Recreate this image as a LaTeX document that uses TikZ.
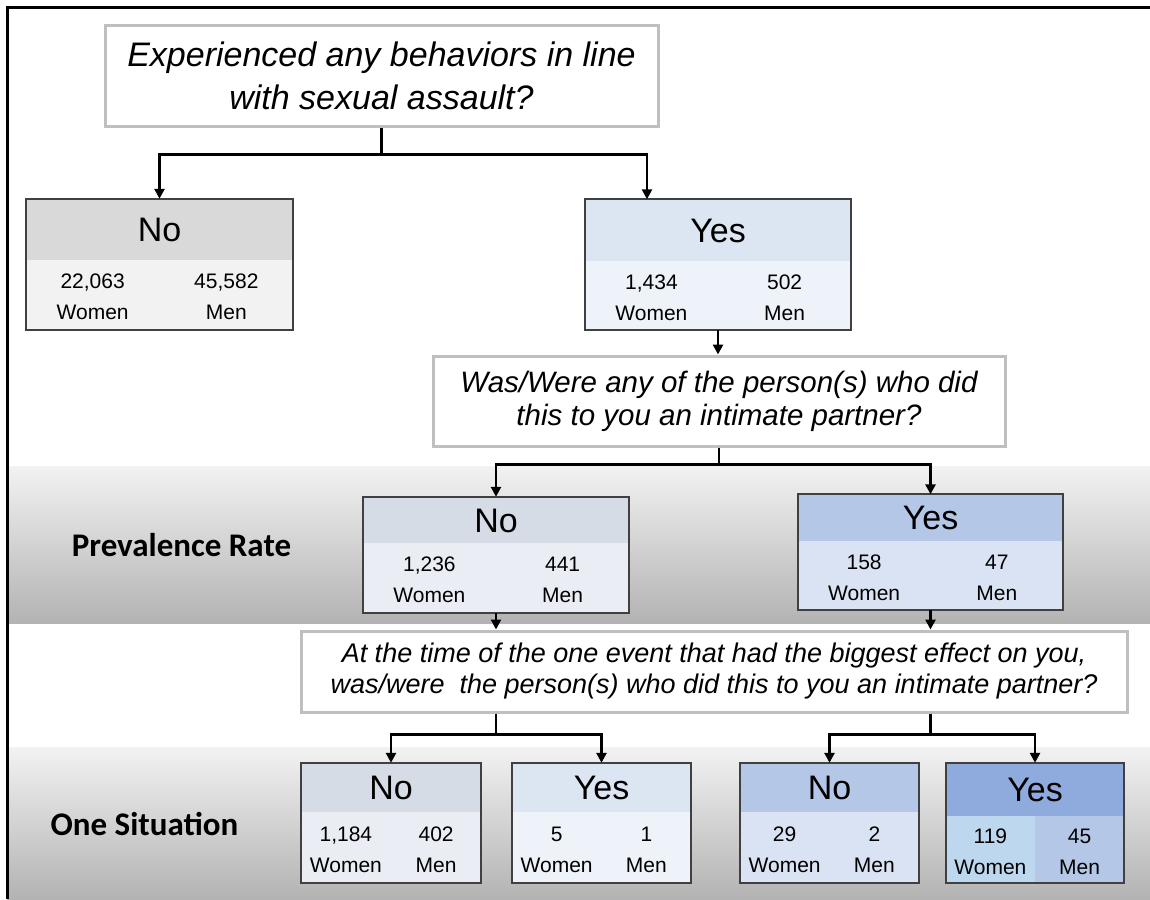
\documentclass[tikz,border=0pt]{standalone}
\usepackage{fontspec}
\setmainfont{Liberation Sans}
\newfontfamily\labelfont{Carlito}
\usepackage{xcolor}
\definecolor{framegray}{HTML}{404040}
\definecolor{questgray}{HTML}{BFBFBF}
\definecolor{bandtop}{HTML}{F2F2F2}
\definecolor{bandbot}{HTML}{B3B3B3}
\definecolor{greyhead}{HTML}{D9D9D9}
\definecolor{greybody}{HTML}{F2F2F2}
\definecolor{paleblue}{HTML}{DCE6F2}
\definecolor{palebody}{HTML}{EEF3FA}
\definecolor{slatehead}{HTML}{D6DCE5}
\definecolor{slatebody}{HTML}{EAEEF4}
\definecolor{midblue}{HTML}{B4C7E7}
\definecolor{midbody}{HTML}{DAE3F3}
\definecolor{deepblue}{HTML}{8FAADC}
\definecolor{womenblue}{HTML}{BDD7EE}
\usepackage{tikz}
\usetikzlibrary{arrows.meta,positioning,calc}
\tikzset{
  >={Triangle[length=10pt,width=10pt]},
  quest/.style={rectangle,draw=questgray,line width=3pt,fill=white,align=center,inner sep=0pt},
  tallyhead/.style={rectangle,inner sep=0pt,text height=24pt,text depth=0pt,font=\fontsize{34}{40}\selectfont},
  tallybody/.style={rectangle,inner sep=0pt,minimum height=69pt},
  tallynum/.style={align=center,yshift=-2pt,font=\fontsize{21}{31}\selectfont},
  tallyframe/.style={draw=framegray,line width=2pt},
  link/.style={->,line width=2.5pt},
  band/.style={top color=bandtop,bottom color=bandbot},
  bandlabel/.style={font=\labelfont\bfseries\fontsize{33}{36}\selectfont}
}
% name, centre of header, width, header height, header colour, body style, title, women, men
\newcommand{\tally}[9]{%
  \node[tallyhead,minimum width=#3,minimum height=#4,fill=#5] (#1) at #2 {#7};
  \node[tallybody,minimum width=#3,#6,anchor=north] (#1-b) at (#1.south) {};
  \node[tallynum] (#1-w) at ($(#1-b.center)!0.5!(#1-b.west)$) {#8\\Women};
  \node[tallynum] (#1-m) at ($(#1-b.center)!0.5!(#1-b.east)$) {#9\\Men};
  \draw[tallyframe] (#1.north west) rectangle (#1-b.south east);
}

\begin{document}
\begin{tikzpicture}[x=1pt,y=-1pt]
  \useasboundingbox (0,0) rectangle (1150,899);

  % Bands
  \shade[band] (7,466) rectangle (1150,623);
  \shade[band] (7,747) rectangle (1150,899);
  \node[bandlabel] (prev) at (181.5,545) {Prevalence Rate};
  \node[bandlabel] (once) at (144.5,824) {One Situation};
  \draw[line width=3pt] (1150,8) -- (7,8) -- (7,899);

  % Questions
  \node[quest,minimum width=553pt,minimum height=100pt,font=\itshape\fontsize{34}{43}\selectfont] (q1) at (381.5,76)
    {Experienced any behaviors in line\\with sexual assault?};
  \node[quest,minimum width=572pt,minimum height=90pt,font=\itshape\fontsize{29.5}{33}\selectfont] (q2) at (719,401)
    {Was/Were any of the person(s) who did\\this to you an intimate partner?};
  \node[quest,minimum width=826pt,minimum height=81pt,font=\itshape\fontsize{27}{31}\selectfont] (q3) at (714,671.5)
    {At the time of the one event that had the biggest effect on you,\\was/were~ the person(s) who did this to you an intimate partner?};

  % Counts
  \tally{noA}{(159.5,229.5)}{267pt}{61pt}{greyhead}{fill=greybody}{No}{22,063}{45,582}
  \tally{yesA}{(718,230)}{266pt}{61pt}{paleblue}{fill=palebody}{Yes}{1,434}{502}
  \tally{noB}{(496,520)}{266pt}{46pt}{slatehead}{fill=slatebody}{No}{1,236}{441}
  \tally{yesB}{(930.5,517.5)}{265pt}{46pt}{midblue}{fill=midbody}{Yes}{158}{47}
  \tally{noC}{(391,787.5)}{180pt}{49pt}{slatehead}{fill=slatebody,minimum height=70pt}{No}{1,184}{402}
  \tally{yesC}{(601.5,787.5)}{179pt}{49pt}{paleblue}{fill=palebody,minimum height=70pt}{Yes}{5}{1}
  \tally{noD}{(829.5,787.5)}{179pt}{49pt}{midblue}{fill=midbody,minimum height=70pt}{No}{29}{2}
  \tally{yesD}{(1035,789.5)}{178pt}{53pt}{deepblue}{fill=midblue,minimum height=66pt,
    path picture={\fill[womenblue] (path picture bounding box.north west) rectangle (path picture bounding box.south);}}{Yes}{119}{45}

  % Arrows
  \draw[link] (q1.south) -- ++(0,27) -| (noA.north);
  \draw[link] (q1.south) -- ++(0,27) -| ([xshift=-71pt]yesA.north);
  \draw[link] (yesA-b.south) -- (yesA-b.south |- q2.north);
  \draw[link] (q2.south) -- ++(0,17) -| (noB.north);
  \draw[link] (q2.south) -- ++(0,17) -| (yesB.north);
  \draw[link] (noB-b.south) -- (noB-b.south |- q3.north);
  \draw[link] (yesB-b.south) -- (yesB-b.south |- q3.north);
  \draw[link] (q3.south -| noB.north) -- ++(0,21) -| (noC.north);
  \draw[link] (q3.south -| noB.north) -- ++(0,21) -| (yesC.north);
  \draw[link] (q3.south -| yesB.north) -- ++(0,21) -| (noD.north);
  \draw[link] (q3.south -| yesB.north) -- ++(0,21) -| (yesD.north);
\end{tikzpicture}
\end{document}
